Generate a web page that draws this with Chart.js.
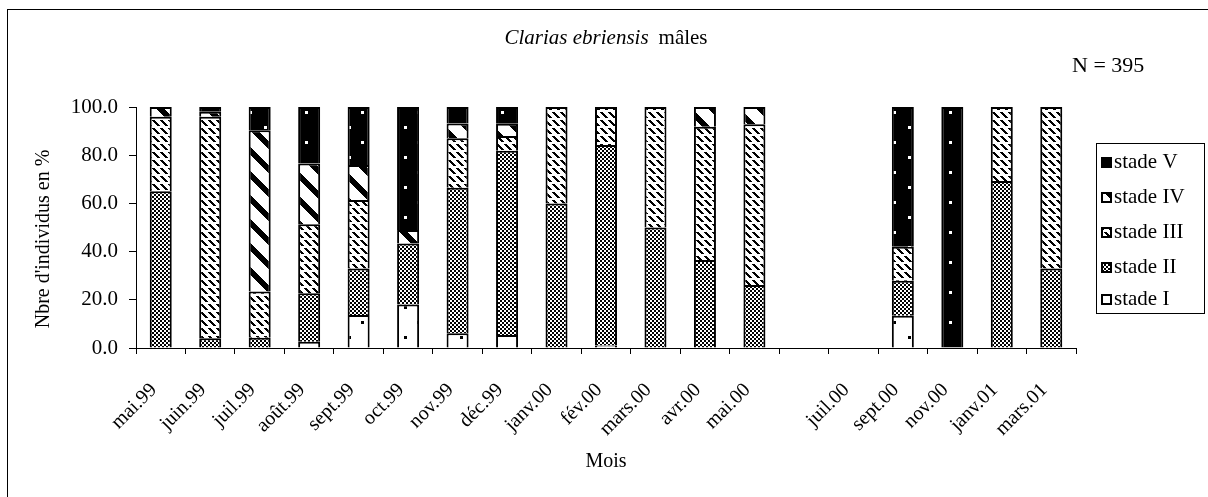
<!DOCTYPE html>
<html><head><meta charset="utf-8">
<script src="https://cdn.jsdelivr.net/npm/chart.js@4.4.1/dist/chart.umd.min.js"></script>
<style>html,body{margin:0;padding:0;background:#fff}canvas{display:block}</style>
</head><body>
<canvas id="c" width="1208" height="497"></canvas>
<script>
const categories = ['mai.99','juin.99','juil.99','août.99','sept.99','oct.99','nov.99','déc.99','janv.00','fév.00','mars.00','avr.00','mai.00','','juil.00','sept.00','nov.00','janv.01','mars.01'];
const stadeI   = [0,0,0,2.6,13.7,18.1,6.1,5.4,0,1,0,0,0,null,null,13.4,0,0,0];
const stadeII  = [65,4,4.3,20.1,19.3,25.3,60.4,76.4,60,83.2,50,36.5,26.1,null,null,14.5,0,69.3,33];
const stadeIII = [31,92,19.1,28.6,28.4,0,20.5,6.2,40,15.8,50,55.3,66.7,null,null,14.1,0,30.7,67];
const stadeIV  = [4,2,67,25.3,14.5,5.6,6.2,5,0,0,0,8.2,7.2,null,null,0,0,0,0];
const stadeV   = [0,2,9.6,23.4,24.1,51,6.8,7,0,0,0,0,0,null,null,58,100,0,0];
const yTicks = [0,20,40,60,80,100];
const seriesLabels = ['stade I','stade II','stade III','stade IV','stade V'];
const chartTitleItalic = 'Clarias ebriensis';
const chartTitleRest = 'mâles';
const noteText = 'N = 395';
const yTitle = "Nbre d'individus en %";
const xTitle = 'Mois';

const FONT = 'Liberation Serif';
const pctx = document.createElement('canvas').getContext('2d');
function makePattern(w, h, bg, fg, draw) {
  const c = document.createElement('canvas'); c.width = w; c.height = h;
  const x = c.getContext('2d');
  x.fillStyle = bg; x.fillRect(0, 0, w, h);
  x.fillStyle = fg; draw(x, w, h);
  return pctx.createPattern(c, 'repeat');
}
const patI = makePattern(28, 30, '#fff', '#000', x => { x.fillRect(12, 6, 3, 3); x.fillRect(25, 21, 3, 3); });
const patII = makePattern(4, 4, '#fff', '#000', x => { x.fillRect(0, 0, 2, 2); x.fillRect(2, 2, 2, 2); });
const patIII = makePattern(8, 8, '#fff', '#000', x => { for (let i = 0; i < 6; i++) { x.fillRect(i, i, 1, 1); x.fillRect((i + 1) % 8, i, 1, 1); x.fillRect((i + 2) % 8, i, 1, 1); } });
const patIV = makePattern(24, 24, '#fff', '#000', x => { for (let yy = 0; yy < 24; yy++) for (let xx = 0; xx < 24; xx++) if (((xx - yy) % 24 + 24) % 24 < 8) x.fillRect(xx, yy, 1, 1); });
const patV = makePattern(28, 30, '#000', '#fff', x => { x.fillRect(12, 6, 3, 3); x.fillRect(25, 21, 3, 3); });
const fills = [patI, patII, patIII, patIV, patV];
const values = [stadeI, stadeII, stadeIII, stadeIV, stadeV];

const decor = {
  id: 'decor',
  beforeDraw(chart) {
    const ctx = chart.ctx;
    ctx.save();
    ctx.fillStyle = '#fff'; ctx.fillRect(0, 0, chart.width, chart.height);
    ctx.strokeStyle = '#000'; ctx.lineWidth = 1;
    ctx.strokeRect(7.5, 9.5, 1400, 700);
    ctx.restore();
  },
  afterDraw(chart) {
    const ctx = chart.ctx;
    const xs = chart.scales.x;
    ctx.save();
    ctx.fillStyle = '#000';
    ctx.textBaseline = 'alphabetic';
    ctx.font = 'italic 21px ' + FONT;
    const w1 = ctx.measureText(chartTitleItalic).width;
    ctx.font = '21px ' + FONT;
    const w2 = ctx.measureText(chartTitleRest).width;
    const gap = 10;
    let tx = 606 - (w1 + gap + w2) / 2;
    ctx.font = 'italic 21px ' + FONT; ctx.textAlign = 'left';
    ctx.fillText(chartTitleItalic, tx, 44);
    ctx.font = '21px ' + FONT;
    ctx.fillText(chartTitleRest, tx + w1 + gap, 44);
    ctx.font = '22px ' + FONT;
    ctx.fillText(noteText, 1072, 72);
    ctx.save();
    ctx.translate(44, 239); ctx.rotate(-Math.PI / 2);
    ctx.font = '20px ' + FONT; ctx.textAlign = 'center'; ctx.textBaseline = 'middle';
    ctx.fillText(yTitle, 0, 0);
    ctx.restore();
    ctx.font = '20px ' + FONT; ctx.textAlign = 'center'; ctx.textBaseline = 'middle';
    ctx.fillText(xTitle, 606, 462);
    categories.forEach((lab, i) => {
      if (!lab) return;
      const px = xs.getPixelForValue(i);
      ctx.save();
      ctx.translate(px - 7, 387);
      ctx.rotate(-Math.PI / 4);
      ctx.font = '20px ' + FONT; ctx.textAlign = 'right'; ctx.textBaseline = 'middle';
      ctx.fillText(lab, 0, 0);
      ctx.restore();
    });
    ctx.lineWidth = 1; ctx.strokeStyle = '#000';
    ctx.strokeRect(1096.5, 143.5, 108, 170);
    const ds = chart.data.datasets;
    const ys = [162, 197, 232, 267, 299];
    for (let k = 0; k < ds.length; k++) {
      const d = ds[ds.length - 1 - k];
      const y = ys[k];
      ctx.fillStyle = d.backgroundColor;
      ctx.fillRect(1102, y - 4, 9, 9);
      ctx.lineWidth = 2; ctx.strokeRect(1102, y - 4, 9, 9);
      ctx.fillStyle = '#000';
      ctx.font = '21px ' + FONT; ctx.textAlign = 'left'; ctx.textBaseline = 'middle';
      ctx.fillText(d.label, 1114, y);
    }
    ctx.restore();
  }
};

new Chart(document.getElementById('c'), {
  type: 'bar',
  data: {
    labels: categories,
    datasets: values.map((v, i) => ({
      label: seriesLabels[i],
      data: v,
      backgroundColor: fills[i],
      borderColor: '#000',
      borderWidth: 2,
      borderSkipped: 'start',
      barPercentage: 0.445,
      categoryPercentage: 1
    }))
  },
  options: {
    responsive: false,
    animation: false,
    devicePixelRatio: 1,
    layout: { padding: { left: 0, top: 107, right: 132, bottom: 0 } },
    plugins: { legend: { display: false }, tooltip: { enabled: false }, title: { display: false } },
    scales: {
      x: {
        stacked: true, offset: true,
        grid: { display: true, drawOnChartArea: false, drawTicks: true, tickLength: 6, color: '#000', offset: true, lineWidth: 1 },
        border: { display: true, color: '#000', width: 1 },
        ticks: { display: false },
        afterFit: s => { s.height = 149; }
      },
      y: {
        stacked: true, min: 0, max: 100,
        afterBuildTicks: s => { s.ticks = yTicks.map(v => ({ value: v })); },
        ticks: { color: '#000', font: { family: FONT, size: 21 }, padding: 11, callback: v => Number(v).toFixed(1) },
        grid: { drawOnChartArea: false, tickLength: 7, color: '#000' },
        border: { display: true, color: '#000', width: 1 },
        afterFit: s => { s.width = 136; }
      }
    }
  },
  plugins: [decor]
});
</script>
</body></html>
